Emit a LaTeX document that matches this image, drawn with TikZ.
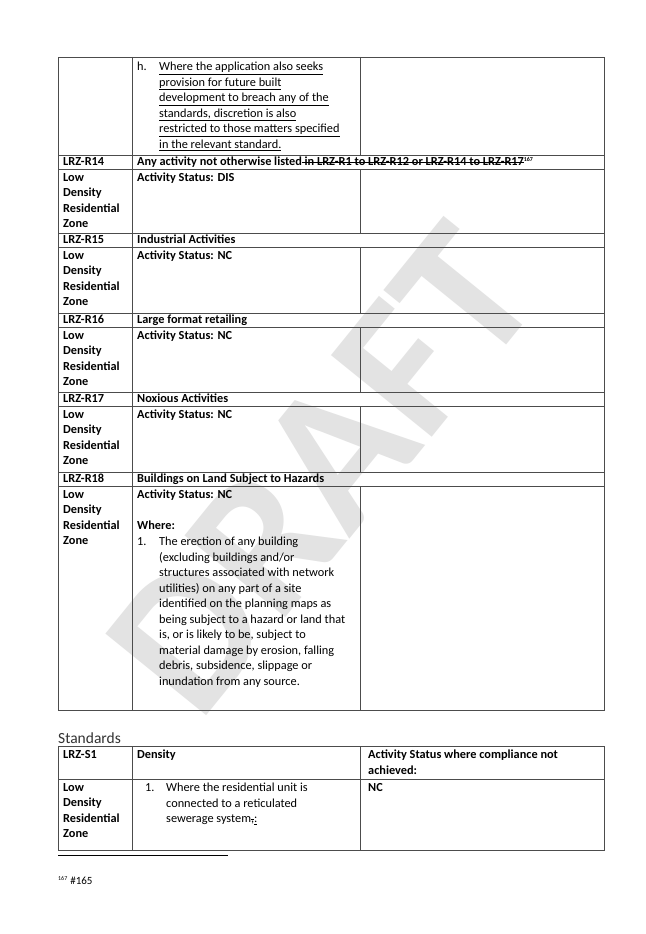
\documentclass[tikz,border=0pt]{standalone}
\usepackage{fontspec}
\setmainfont{Carlito}
\newsavebox\mybx
\newcommand\mystrike[1]{\sbox\mybx{#1}\rlap{\rule[0.26em]{\wd\mybx}{0.6pt}}\usebox\mybx}
\newcommand\myul[1]{\underline{#1}}
\begin{document}
\begin{tikzpicture}[x=1pt,y=-1pt,
  grid/.style={draw=black!70,line width=0.8pt},
  txt/.style={anchor=north west,inner sep=0pt,yshift=9pt,align=left,font=\fontsize{12.3}{15.5}\selectfont},
  bt/.style={txt,font=\fontsize{12.3}{15.5}\selectfont\bfseries}]
\useasboundingbox (0,0) rectangle (645,934);
\fill[white] (0,0) rectangle (645,934);
% watermark
\node[rotate=51,text=black!11,font=\fontsize{200}{200}\selectfont\bfseries,inner sep=0] (wm) at (322,470) {DRAFT};
% table 1 frame
\draw[grid] (58,57) rectangle (604,710);
\foreach \y in {155,169,233,247,313,327,392,406,472,486} \draw[grid] (58,\y) -- (604,\y);
\draw[grid] (132,57) -- (132,710);
\foreach \a/\b in {57/155,169/233,247/313,327/392,406/472,486/710} \draw[grid] (360,\a) -- (360,\b);
% row h
\node[txt] (hl) at (137,71) {h.};
\node[txt] (ht) at (159,71) {\myul{Where the application also seeks}\\\myul{provision for future built}\\\myul{development to breach any of the}\\\myul{standards, discretion is also}\\\myul{restricted to those matters specified}\\\myul{in the relevant standard.}};
% headers
\node[bt] (r14) at (63,166) {LRZ-R14};
\node[bt] (r14t) at (137,166) {Any activity not otherwise listed\mystrike{ in LRZ-R1 to LRZ-R12 or LRZ-R14 to LRZ-R17}\textsuperscript{\fontsize{6}{6}\selectfont 167}};
\node[bt] (r15) at (63,244) {LRZ-R15};
\node[bt] (r15t) at (137,244) {Industrial Activities};
\node[bt] (r16) at (63,324) {LRZ-R16};
\node[bt] (r16t) at (137,324) {Large format retailing};
\node[bt] (r17) at (63,403) {LRZ-R17};
\node[bt] (r17t) at (137,403) {Noxious Activities};
\node[bt] (r18) at (63,483) {LRZ-R18};
\node[bt] (r18t) at (137,483) {Buildings on Land Subject to Hazards};
% content rows
\foreach \y/\s [count=\i] in {182/DIS,260/NC,340/NC,419/NC,499/NC}{
  \node[bt] (z\i) at (63,\y) {Low\\Density\\Residential\\Zone};
  \node[bt] (s\i) at (137,\y) {Activity Status: \s};
}
\node[bt] (wh) at (137,530) {Where:};
\node[txt] (n1) at (137,546) {1.};
\node[txt] (n1t) at (159,546) {The erection of any building\\(excluding buildings and/or\\structures associated with network\\utilities) on any part of a site\\identified on the planning maps as\\being subject to a hazard or land that\\is, or is likely to be, subject to\\material damage by erosion, falling\\debris, subsidence, slippage or\\inundation from any source.};
% Standards
\node[anchor=base west,inner sep=0,font=\fontsize{15.5}{18}\selectfont,text=black!80] (std) at (58,743) {Standards};
\draw[grid] (58,746) rectangle (604,850);
\draw[grid] (58,779) -- (604,779);
\draw[grid] (132,746) -- (132,850);
\draw[grid] (360,746) -- (360,850);
\node[bt] (s1) at (63,759) {LRZ-S1};
\node[bt] (s1t) at (137,759) {Density};
\node[bt] (s1a) at (368,759) {Activity Status where compliance not\\achieved:};
\node[bt] (s2) at (63,792) {Low\\Density\\Residential\\Zone};
\node[txt] (s2n) at (145,792) {1.};
\node[txt] (s2t) at (166,792) {Where the residential unit is\\connected to a reticulated\\sewerage system\mystrike{,}\myul{:}};
\node[bt] (s2a) at (368,792) {NC};
% footnote
\draw[line width=0.7pt] (58,855) -- (228,855);
\node[anchor=base west,inner sep=0,font=\fontsize{11}{13}\selectfont] (fn) at (58,884) {\textsuperscript{\fontsize{6}{6}\selectfont 167} \#165};
\end{tikzpicture}
\end{document}
